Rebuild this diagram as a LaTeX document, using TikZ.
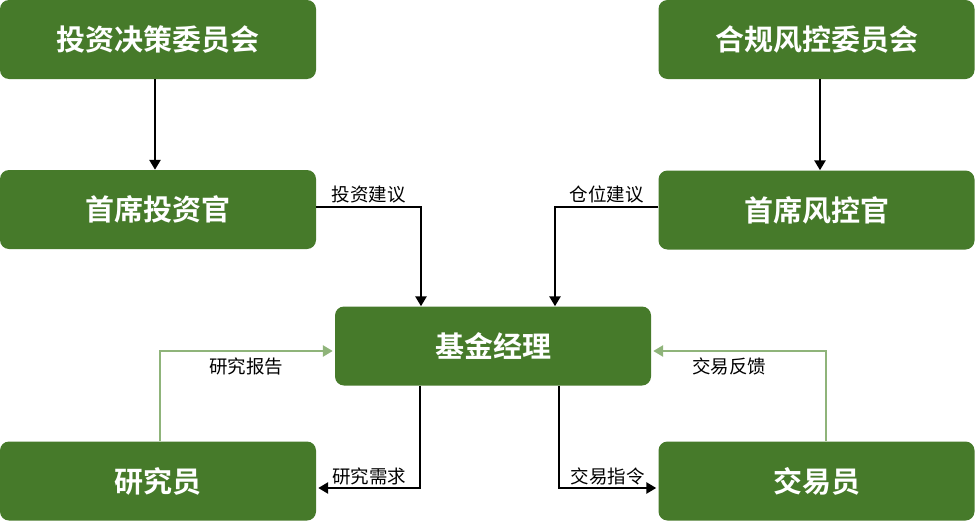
\documentclass[tikz,border=0pt]{standalone}
\usepackage{fontspec}
\setmainfont{Noto Sans CJK SC}
\newfontfamily\cjkbold{Noto Sans CJK SC Bold}
\usetikzlibrary{arrows.meta}
\definecolor{boxgreen}{HTML}{467A2A}
\definecolor{lightgreen}{HTML}{8FB47A}
\tikzset{
  box/.style={draw=none, fill=boxgreen, rounded corners=9pt, minimum width=316pt, minimum height=79pt,
              text=white, font=\cjkbold\fontsize{29}{32}\selectfont, inner sep=0pt},
  darrow/.style={line width=2.8pt, draw=black, -{Triangle[width=11pt,length=10pt]}},
  larrow/.style={line width=2.8pt, draw=lightgreen, -{Triangle[width=11pt,length=10pt]}},
  elabel/.style={font=\fontsize{18.5}{20}\selectfont, text=black, inner sep=2pt}
}
\begin{document}
\begin{tikzpicture}[x=1pt,y=1pt]
\useasboundingbox (0,0) rectangle (975,-522);
\node[box] (ic) at (158,-39.5) {投资决策委员会};
\node[box] (cc) at (816.5,-39.5) {合规风控委员会};
\node[box] (cio) at (158,-209.5) {首席投资官};
\node[box] (cro) at (816.5,-210) {首席风控官};
\node[box] (fm) at (493,-346) {基金经理};
\node[box] (rs) at (158,-481) {研究员};
\node[box] (tr) at (816.5,-481) {交易员};

\draw[darrow] ([xshift=-3pt]ic.south) -- ([xshift=-3pt]cio.north);
\draw[darrow] ([xshift=3.5pt]cc.south) -- ([xshift=3.5pt]cro.north);
\draw[darrow] ([yshift=2.5pt]cio.east) -| node[elabel, pos=0.25, above] {投资建议} ([xshift=-72pt]fm.north);
\draw[darrow] ([yshift=3pt]cro.west) -| node[elabel, pos=0.25, above] {仓位建议} ([xshift=62pt]fm.north);
\draw[larrow] ([xshift=2pt]rs.north) |- node[elabel, pos=0.75, below=3pt] {研究报告} ([yshift=-5pt,xshift=-2pt]fm.west);
\draw[larrow] ([xshift=9.5pt]tr.north) |- node[elabel, pos=0.78, below=3pt] {交易反馈} ([yshift=-5pt,xshift=2pt]fm.east);
\draw[darrow] ([xshift=-73pt]fm.south) |- node[elabel, pos=0.75, above] {研究需求} ([yshift=-7pt,xshift=2pt]rs.east);
\draw[darrow] ([xshift=66pt]fm.south) |- node[elabel, pos=0.75, above] {交易指令} ([yshift=-7pt,xshift=-2pt]tr.west);
\end{tikzpicture}
\end{document}
